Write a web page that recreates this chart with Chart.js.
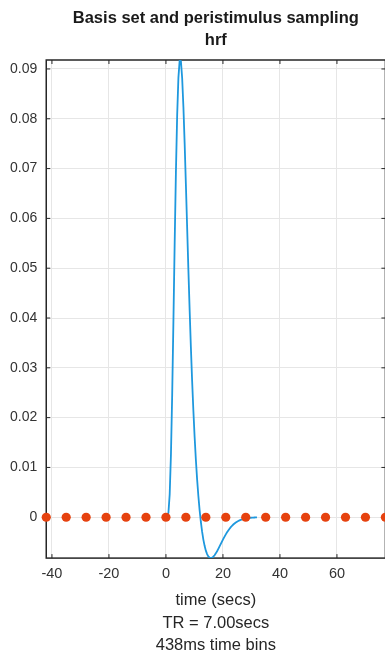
<!DOCTYPE html>
<html>
<head>
<meta charset="utf-8">
<script src="https://cdn.jsdelivr.net/npm/chart.js@4.4.1/dist/chart.umd.min.js"></script>
<style>
html, body { margin: 0; padding: 0; background: #fff; overflow: hidden; }
#wrap { width: 390px; height: 657px; }
</style>
</head>
<body>
<div id="wrap"><canvas id="bf"></canvas></div>
<script>
// peristimulus time (secs), one bin = 438ms
const pst = [0, 0.4375, 0.875, 1.3125, 1.75, 2.1875, 2.625, 3.0625, 3.5, 3.9375,
    4.375, 4.8125, 5.25, 5.6875, 6.125, 6.5625, 7, 7.4375, 7.875, 8.3125,
    8.75, 9.1875, 9.625, 10.0625, 10.5, 10.9375, 11.375, 11.8125, 12.25, 12.6875,
    13.125, 13.5625, 14, 14.4375, 14.875, 15.3125, 15.75, 16.1875, 16.625, 17.0625,
    17.5, 17.9375, 18.375, 18.8125, 19.25, 19.6875, 20.125, 20.5625, 21, 21.4375,
    21.875, 22.3125, 22.75, 23.1875, 23.625, 24.0625, 24.5, 24.9375, 25.375, 25.8125,
    26.25, 26.6875, 27.125, 27.5625, 28, 28.4375, 28.875, 29.3125, 29.75, 30.1875,
    30.625, 31.0625, 31.5, 31.9375];
// canonical hrf
const hrf = [0, 0.00005, 0.00094, 0.00459, 0.01248, 0.02459, 0.03949, 0.05512, 0.06939, 0.08074,
    0.08827, 0.09172, 0.09159, 0.08818, 0.08241, 0.07504, 0.06676, 0.05816, 0.04967, 0.04160,
    0.03414, 0.02737, 0.02138, 0.01612, 0.01155, 0.00761, 0.00426, 0.00143, -0.00095, -0.00290,
    -0.00449, -0.00574, -0.00670, -0.00739, -0.00785, -0.00811, -0.00819, -0.00812, -0.00792, -0.00763,
    -0.00725, -0.00682, -0.00634, -0.00585, -0.00534, -0.00484, -0.00435, -0.00389, -0.00344, -0.00303,
    -0.00265, -0.00231, -0.00199, -0.00171, -0.00146, -0.00125, -0.00105, -0.00089, -0.00074, -0.00062,
    -0.00052, -0.00043, -0.00035, -0.00029, -0.00024, -0.00019, -0.00016, -0.00013, -0.00010, -0.00008,
    -0.00007, -0.00005, -0.00004, -0.00003];
// scan sampling (TR = 7s)
const scanTimes = [-42, -35, -28, -21, -14, -7, 0, 7, 14, 21, 28, 35, 42, 49, 56, 63, 70, 77];
const scanValues = [0, 0, 0, 0, 0, 0, 0, 0, 0, 0, 0, 0, 0, 0, 0, 0, 0, 0];

const xTicks = [-40, -20, 0, 20, 40, 60];
const yTicks = [0, 0.01, 0.02, 0.03, 0.04, 0.05, 0.06, 0.07, 0.08, 0.09];
const xTitle = ['time (secs)', 'TR = 7.00secs', '438ms time bins'];
const plotTitle = ['Basis set and peristimulus sampling', 'hrf'];

const FONT = 'Liberation Sans, Arial, Helvetica, sans-serif';

// matlab style box with inward ticks
const frame = {
    id: 'frame',
    beforeDatasetsDraw(chart) {
        const ctx = chart.ctx;
        const a = chart.chartArea;
        const x = chart.scales.x;
        const y = chart.scales.y;
        ctx.save();
        ctx.strokeStyle = '#262626';
        ctx.lineWidth = 1.5;
        ctx.strokeRect(a.left, a.top, a.right - a.left, a.bottom - a.top);
        ctx.lineWidth = 1;
        ctx.beginPath();
        xTicks.forEach(function (v) {
            let px = x.getPixelForValue(v);
            ctx.moveTo(px, a.bottom); ctx.lineTo(px, a.bottom - 4);
            ctx.moveTo(px, a.top); ctx.lineTo(px, a.top + 4);
        });
        yTicks.forEach(function (v) {
            let py = y.getPixelForValue(v);
            ctx.moveTo(a.left, py); ctx.lineTo(a.left + 4, py);
            ctx.moveTo(a.right, py); ctx.lineTo(a.right - 4, py);
        });
        ctx.stroke();
        ctx.restore();
    }
};

let ctx = document.getElementById('bf').getContext('2d');
let bf = new Chart(ctx, {
    type: 'scatter',
    data: {
        datasets: [{
            label: 'sampling',
            data: scanTimes.map(function (t, i) { return {x: t, y: scanValues[i]}; }),
            showLine: false,
            pointRadius: 4.6,
            pointHoverRadius: 4.6,
            pointBackgroundColor: '#e6420f',
            pointBorderWidth: 0,
            clip: false,
            order: 0
        }, {
            label: 'hrf',
            data: pst.map(function (t, i) { return {x: t, y: hrf[i]}; }),
            showLine: true,
            borderColor: '#1e98de',
            borderWidth: 1.8,
            pointRadius: 0,
            tension: 0,
            order: 1
        }]
    },
    options: {
        responsive: true,
        maintainAspectRatio: false,
        animation: false,
        layout: { padding: { top: 0, right: 3, bottom: 0, left: 1 } },
        plugins: {
            legend: { display: false },
            tooltip: { enabled: false },
            title: {
                display: true,
                text: plotTitle,
                fullSize: false,
                color: '#1a1a1a',
                font: { family: FONT, size: 16.5, weight: 'bold', lineHeight: 22 / 16.5 },
                padding: { top: 7, bottom: 9 }
            }
        },
        scales: {
            x: {
                type: 'linear',
                min: -42,
                max: 77,
                afterBuildTicks: function (s) { s.ticks = xTicks.map(function (v) { return {value: v}; }); },
                ticks: {
                    color: '#333',
                    padding: 7,
                    maxRotation: 0,
                    font: { family: FONT, size: 14.5 },
                    callback: function (v) { return String(v); }
                },
                grid: { color: '#e6e6e6', drawTicks: false },
                border: { display: false },
                title: {
                    display: true,
                    text: xTitle,
                    color: '#262626',
                    font: { family: FONT, size: 16.5, lineHeight: 22.5 / 16.5 },
                    padding: { top: 0, bottom: 0 }
                }
            },
            y: {
                type: 'linear',
                min: -0.0082,
                max: 0.0918,
                afterBuildTicks: function (s) { s.ticks = yTicks.map(function (v) { return {value: v}; }); },
                ticks: {
                    color: '#333',
                    padding: 9,
                    font: { family: FONT, size: 14 },
                    callback: function (v) { return v === 0 ? '0' : v.toFixed(2); }
                },
                grid: { color: '#e6e6e6', drawTicks: false },
                border: { display: false }
            }
        }
    },
    plugins: [frame]
});
</script>
</body>
</html>
